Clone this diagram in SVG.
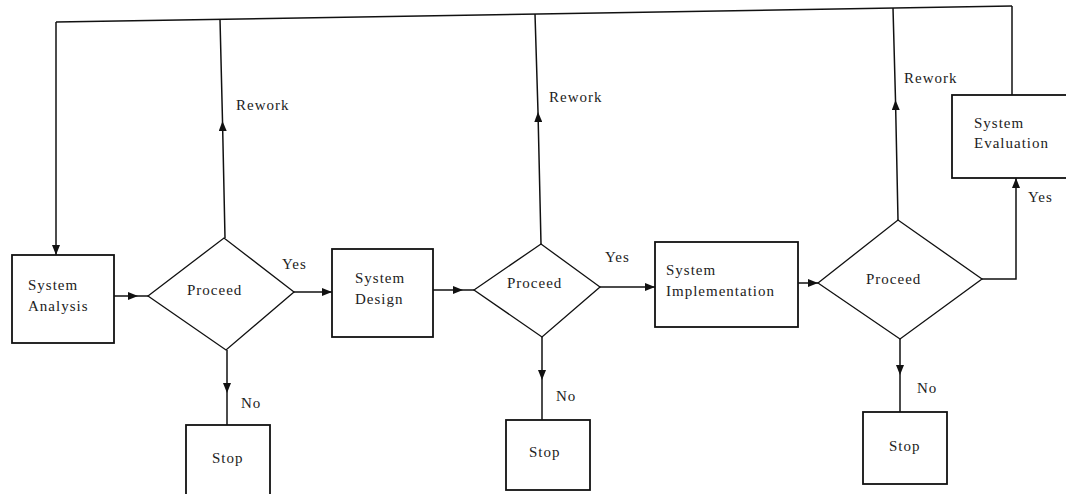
<svg xmlns="http://www.w3.org/2000/svg" width="1066" height="494" viewBox="0 0 1066 494">
<defs>
<marker id="ah" viewBox="0 0 10 8" refX="10" refY="4" markerWidth="10" markerHeight="8" markerUnits="userSpaceOnUse" orient="auto">
<polygon points="0,0 10,4 0,8" fill="#111"/>
</marker>
<style>
.box{fill:#fff;stroke:#111;stroke-width:1.8}
.dia{fill:#fff;stroke:#111;stroke-width:1.3}
.ln{fill:none;stroke:#111;stroke-width:1.5}
text{font-family:"Liberation Serif","Times New Roman",serif;font-size:15px;fill:#222;letter-spacing:1px}
</style>
</defs>
<rect width="1066" height="494" fill="#fff"/>
<g id="connectors">
<path class="ln" d="M56,22 L1012,6"/>
<path class="ln" d="M56,22 L56,255" marker-end="url(#ah)"/>
<path class="ln" d="M225,238 L222.5,121 L220,19.3" marker-mid="url(#ah)"/>
<path class="ln" d="M541,244 L538,112 L535,14" marker-mid="url(#ah)"/>
<path class="ln" d="M898,220 L895.5,100 L893,8" marker-mid="url(#ah)"/>
<path class="ln" d="M1012,95 L1012,6"/>
<path class="ln" d="M982,279 L1016,279 L1016,178" marker-end="url(#ah)"/>
<path class="ln" d="M114,296 L138,296 L148,296" marker-mid="url(#ah)"/>
<path class="ln" d="M294,292 L332,292" marker-end="url(#ah)"/>
<path class="ln" d="M433,290 L463,290 L474,290" marker-mid="url(#ah)"/>
<path class="ln" d="M600,287 L655,287" marker-end="url(#ah)"/>
<path class="ln" d="M798,283 L818,283" marker-end="url(#ah)"/>
<path class="ln" d="M227,350 L227,393 L227,425" marker-mid="url(#ah)"/>
<path class="ln" d="M542,337 L542,380 L542,420" marker-mid="url(#ah)"/>
<path class="ln" d="M900,339 L900,375 L900,412" marker-mid="url(#ah)"/>
<text x="236" y="110">Rework</text>
<text x="549" y="102">Rework</text>
<text x="904" y="83">Rework</text>
<text x="282" y="269">Yes</text>
<text x="605" y="262">Yes</text>
<text x="1028" y="202">Yes</text>
<text x="241" y="408">No</text>
<text x="556" y="401">No</text>
<text x="917" y="393">No</text>
</g>
<g id="system-analysis">
<rect class="box" x="12" y="255" width="102" height="88"/>
<text x="28" y="290">System</text>
<text x="28" y="311">Analysis</text>
</g>
<g id="proceed-1">
<polygon class="dia" points="148,296 224,238 294,292 226,350"/>
<text x="187" y="295">Proceed</text>
</g>
<g id="stop-1">
<rect class="box" x="186" y="425" width="84" height="75"/>
<text x="212" y="463">Stop</text>
</g>
<g id="system-design">
<rect class="box" x="332" y="249" width="101" height="88"/>
<text x="355" y="283">System</text>
<text x="355" y="304">Design</text>
</g>
<g id="proceed-2">
<polygon class="dia" points="474,290 541,244 600,287 542,337"/>
<text x="507" y="288">Proceed</text>
</g>
<g id="stop-2">
<rect class="box" x="506" y="420" width="84" height="70"/>
<text x="529" y="457">Stop</text>
</g>
<g id="system-implementation">
<rect class="box" x="655" y="242" width="143" height="85"/>
<text x="666" y="275">System</text>
<text x="666" y="296">Implementation</text>
</g>
<g id="proceed-3">
<polygon class="dia" points="818,283 898,220 982,279 900,339"/>
<text x="866" y="284">Proceed</text>
</g>
<g id="stop-3">
<rect class="box" x="863" y="412" width="84" height="72"/>
<text x="889" y="451">Stop</text>
</g>
<g id="system-evaluation">
<rect class="box" x="952" y="95" width="120" height="83"/>
<text x="974" y="128">System</text>
<text x="974" y="148">Evaluation</text>
</g>
</svg>
